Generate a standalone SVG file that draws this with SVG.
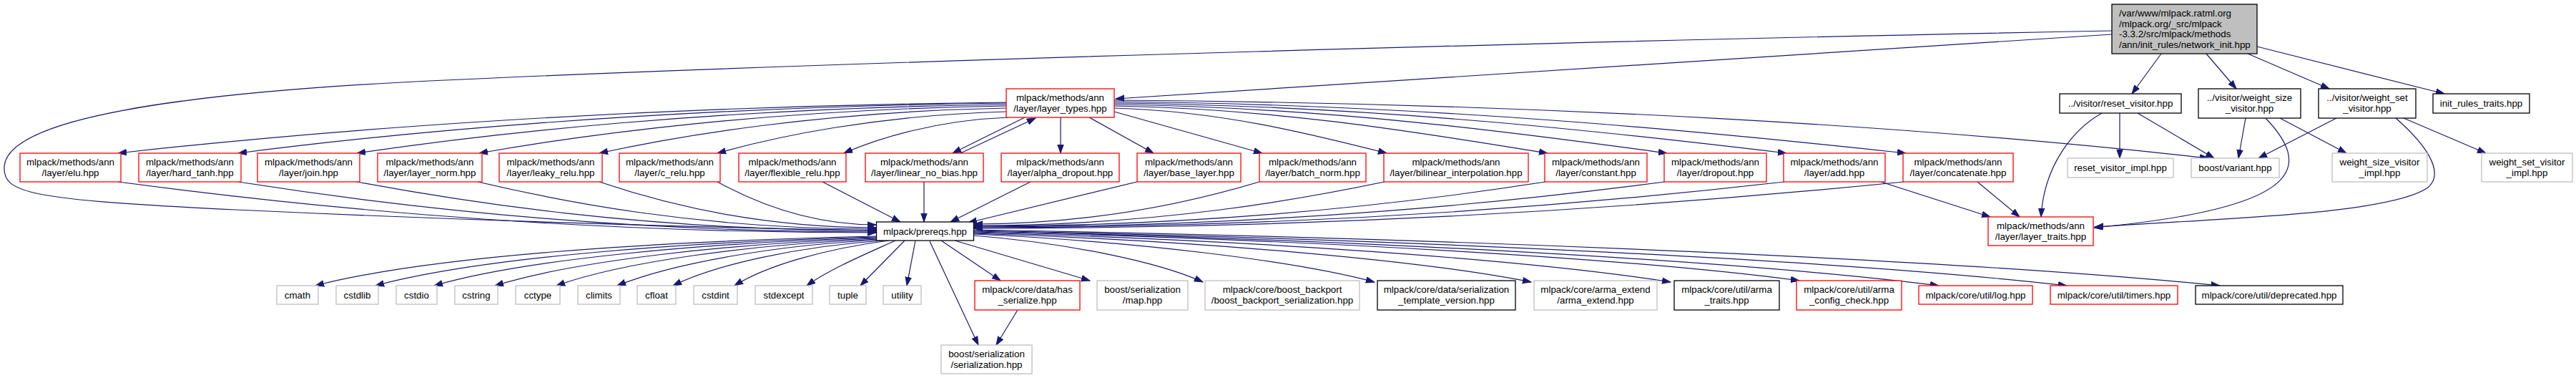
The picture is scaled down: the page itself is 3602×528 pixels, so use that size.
<svg xmlns="http://www.w3.org/2000/svg" width="3602" height="528" viewBox="0 0 3602 528">
<style>
text{font-family:"Liberation Sans",Arial,Helvetica,sans-serif;font-size:13.33px;fill:#000;text-anchor:middle}
.l{text-anchor:start}
rect{fill:#fff;stroke-width:1.3}
.r rect{stroke:#ff0000}
.b rect{stroke:#000}
.g rect{stroke:#bfbfbf}
.root rect{fill:#bfbfbf;stroke:#000}
#edges path{fill:none;stroke:#191970;stroke-width:1.2;marker-end:url(#ah)}
</style>
<defs>
<marker id="ah" markerWidth="13" markerHeight="10" refX="12" refY="5" orient="auto" markerUnits="userSpaceOnUse">
<path d="M0,0.8 L12,5 L0,9.2 z" fill="#191970" stroke="#191970" stroke-width="1"/>
</marker>
</defs>
<rect x="0" y="0" width="3602" height="528" style="fill:#fff;stroke:none"/>
<g id="edges">
<path d="M2953,48 L1560,138"/>
<path d="M2953,43 C2300,55 1200,85 600,113 C250,130 12,165 6,232 C3,270 40,279 330,293 C700,310 1000,318 1225,322"/>
<path d="M3022,75 L2981,131"/>
<path d="M3085,75 L3127,124"/>
<path d="M3143,75 L3257,124"/>
<path d="M3156,65 L3418,131"/>
<path d="M1407,143 C848,149 413,186 165,214"/>
<path d="M1407,144 C924,150 548,186 333,214"/>
<path d="M1407,146 C998,151 681,187 499,214"/>
<path d="M1407,148 C1075,153 817,188 670,214"/>
<path d="M1407,151 C1151,156 952,189 838,214"/>
<path d="M1407,156 C1225,161 1084,191 1003,214"/>
<path d="M1410,164 C1307,168 1226,194 1180,214"/>
<path d="M1433,164 L1332,214"/>
<path d="M1343,214 L1448,165"/>
<path d="M1483,164 L1483,214"/>
<path d="M1523,164 L1613,214"/>
<path d="M1558,156 L1765,214"/>
<path d="M1558,151 C1710,155 1844,190 1939,214"/>
<path d="M1558,148 C1800,152 2012,190 2164,214"/>
<path d="M1558,146 C1867,150 2138,188 2331,214"/>
<path d="M1558,144 C1934,148 2263,186 2498,214"/>
<path d="M1558,142 C2001,146 2388,184 2665,214"/>
<path d="M1558,140 C2170,144 2705,178 3088,221"/>
<path d="M165,254 C377,282 748,325 1225,325"/>
<path d="M333,254 C511,282 824,324 1225,324"/>
<path d="M499,254 C644,281 898,322 1225,322"/>
<path d="M668,254 C779,280 974,320 1225,320"/>
<path d="M838,254 C915,280 1051,318 1225,318"/>
<path d="M1003,254 C1047,278 1125,314 1225,314"/>
<path d="M1150,254 L1259,310"/>
<path d="M1292,254 L1292,310"/>
<path d="M1441,254 L1329,310"/>
<path d="M1590,254 L1354,311"/>
<path d="M1761,254 C1681,278 1542,313 1362,313"/>
<path d="M1936,254 C1821,278 1620,315 1362,315"/>
<path d="M2161,254 C2001,279 1722,316 1362,316"/>
<path d="M2328,254 C2135,279 1797,317 1362,317"/>
<path d="M2495,254 C2268,280 1872,318 1362,318"/>
<path d="M2662,254 C2402,280 1947,319 1362,319"/>
<path d="M2964,158 L2964,221"/>
<path d="M2989,158 L3096,221"/>
<path d="M3140,165 L3130,221"/>
<path d="M3188,165 L3281,214"/>
<path d="M3267,165 L3158,221"/>
<path d="M3361,165 L3476,214"/>
<path d="M2630,254 L2783,303"/>
<path d="M2765,254 L2824,303"/>
<path d="M2939,158 C2900,180 2858,230 2854,303"/>
<path d="M3168,165 C3230,230 3230,290 2928,318"/>
<path d="M3350,165 C3390,200 3420,240 3395,262 C3340,300 3100,305 2929,317"/>
<path d="M1226,330 C912,337 598,358 441,399"/>
<path d="M1226,331 C950,338 670,360 525,399"/>
<path d="M1226,332 C985,339 735,362 607,399"/>
<path d="M1227,333 C1020,340 805,364 692,399"/>
<path d="M1229,334 C1050,341 870,366 778,399"/>
<path d="M1232,335 C1085,342 940,368 863,399"/>
<path d="M1236,336 C1115,344 1000,370 941,399"/>
<path d="M1243,336 C1150,348 1070,372 1027,399"/>
<path d="M1252,336 C1210,355 1160,376 1128,399"/>
<path d="M1265,336 L1203,399"/>
<path d="M1280,336 L1268,399"/>
<path d="M1316,336 L1399,392"/>
<path d="M1335,336 L1524,392"/>
<path d="M1361,329 C1489,339 1618,365 1682,394"/>
<path d="M1361,327 C1585,337 1810,364 1922,394"/>
<path d="M1361,326 C1673,336 1985,363 2141,394"/>
<path d="M1361,325 C1751,335 2141,363 2336,394"/>
<path d="M1361,324 C1823,334 2285,361 2516,392"/>
<path d="M1361,323 C1901,334 2441,365 2711,399"/>
<path d="M1361,322 C1973,334 2584,364 2890,399"/>
<path d="M1361,321 C2058,333 2755,364 3104,399"/>
<path d="M1300,337 L1368,482"/>
<path d="M1423,433 L1393,482"/>
</g>
<g id="n_root" class="root"><rect x="2953" y="6" width="203" height="69"/>
<text class="l" x="2963" y="23">/var/www/mlpack.ratml.org</text>
<text class="l" x="2963" y="37.5">/mlpack.org/_src/mlpack</text>
<text class="l" x="2963" y="52">-3.3.2/src/mlpack/methods</text>
<text class="l" x="2963" y="66.5">/ann/init_rules/network_init.hpp</text></g>
<g id="n_layer_types" class="r"><rect x="1407" y="124" width="151" height="40"/><text x="1482.5" y="141">mlpack/methods/ann</text><text x="1482.5" y="155.5">/layer/layer_types.hpp</text></g>
<g id="n_reset_visitor" class="b"><rect x="2880" y="131" width="170" height="27"/><text x="2965" y="149">../visitor/reset_visitor.hpp</text></g>
<g id="n_weight_size_visitor" class="b"><rect x="3074" y="124" width="143" height="41"/><text x="3145.5" y="141">../visitor/weight_size</text><text x="3145.5" y="155.5">_visitor.hpp</text></g>
<g id="n_weight_set_visitor" class="b"><rect x="3242" y="124" width="136" height="41"/><text x="3310" y="141">../visitor/weight_set</text><text x="3310" y="155.5">_visitor.hpp</text></g>
<g id="n_init_rules_traits" class="b"><rect x="3402" y="131" width="135" height="27"/><text x="3469.5" y="149">init_rules_traits.hpp</text></g>
<g id="n_elu" class="r"><rect x="28" y="214" width="141" height="40"/><text x="98.5" y="231">mlpack/methods/ann</text><text x="98.5" y="245.5">/layer/elu.hpp</text></g>
<g id="n_hard_tanh" class="r"><rect x="194" y="214" width="143" height="40"/><text x="265.5" y="231">mlpack/methods/ann</text><text x="265.5" y="245.5">/layer/hard_tanh.hpp</text></g>
<g id="n_join" class="r"><rect x="360" y="214" width="143" height="40"/><text x="431.5" y="231">mlpack/methods/ann</text><text x="431.5" y="245.5">/layer/join.hpp</text></g>
<g id="n_layer_norm" class="r"><rect x="528" y="214" width="146" height="40"/><text x="601" y="231">mlpack/methods/ann</text><text x="601" y="245.5">/layer/layer_norm.hpp</text></g>
<g id="n_leaky_relu" class="r"><rect x="698" y="214" width="144" height="40"/><text x="770" y="231">mlpack/methods/ann</text><text x="770" y="245.5">/layer/leaky_relu.hpp</text></g>
<g id="n_c_relu" class="r"><rect x="866" y="214" width="141" height="40"/><text x="936.5" y="231">mlpack/methods/ann</text><text x="936.5" y="245.5">/layer/c_relu.hpp</text></g>
<g id="n_flexible_relu" class="r"><rect x="1033" y="214" width="150" height="40"/><text x="1108" y="231">mlpack/methods/ann</text><text x="1108" y="245.5">/layer/flexible_relu.hpp</text></g>
<g id="n_linear_no_bias" class="r"><rect x="1210" y="214" width="165" height="40"/><text x="1292.5" y="231">mlpack/methods/ann</text><text x="1292.5" y="245.5">/layer/linear_no_bias.hpp</text></g>
<g id="n_alpha_dropout" class="r"><rect x="1400" y="214" width="165" height="40"/><text x="1482.5" y="231">mlpack/methods/ann</text><text x="1482.5" y="245.5">/layer/alpha_dropout.hpp</text></g>
<g id="n_base_layer" class="r"><rect x="1590" y="214" width="145" height="40"/><text x="1662.5" y="231">mlpack/methods/ann</text><text x="1662.5" y="245.5">/layer/base_layer.hpp</text></g>
<g id="n_batch_norm" class="r"><rect x="1761" y="214" width="149" height="40"/><text x="1835.5" y="231">mlpack/methods/ann</text><text x="1835.5" y="245.5">/layer/batch_norm.hpp</text></g>
<g id="n_bilinear" class="r"><rect x="1935" y="214" width="202" height="40"/><text x="2036" y="231">mlpack/methods/ann</text><text x="2036" y="245.5">/layer/bilinear_interpolation.hpp</text></g>
<g id="n_constant" class="r"><rect x="2160" y="214" width="143" height="40"/><text x="2231.5" y="231">mlpack/methods/ann</text><text x="2231.5" y="245.5">/layer/constant.hpp</text></g>
<g id="n_dropout" class="r"><rect x="2327" y="214" width="143" height="40"/><text x="2398.5" y="231">mlpack/methods/ann</text><text x="2398.5" y="245.5">/layer/dropout.hpp</text></g>
<g id="n_add" class="r"><rect x="2494" y="214" width="142" height="40"/><text x="2565" y="231">mlpack/methods/ann</text><text x="2565" y="245.5">/layer/add.hpp</text></g>
<g id="n_concatenate" class="r"><rect x="2661" y="214" width="154" height="40"/><text x="2738" y="231">mlpack/methods/ann</text><text x="2738" y="245.5">/layer/concatenate.hpp</text></g>
<g id="n_reset_visitor_impl" class="g"><rect x="2891" y="221" width="148" height="27"/><text x="2965" y="239">reset_visitor_impl.hpp</text></g>
<g id="n_boost_variant" class="g"><rect x="3064" y="221" width="123" height="27"/><text x="3125.5" y="239">boost/variant.hpp</text></g>
<g id="n_weight_size_visitor_impl" class="g"><rect x="3261" y="214" width="133" height="40"/><text x="3327.5" y="231">weight_size_visitor</text><text x="3327.5" y="245.5">_impl.hpp</text></g>
<g id="n_weight_set_visitor_impl" class="g"><rect x="3470" y="214" width="127" height="40"/><text x="3533.5" y="231">weight_set_visitor</text><text x="3533.5" y="245.5">_impl.hpp</text></g>
<g id="n_prereqs" class="b"><rect x="1225.5" y="310" width="136" height="26"/><text x="1293.5" y="327.5">mlpack/prereqs.hpp</text></g>
<g id="n_layer_traits" class="r"><rect x="2780" y="303" width="147" height="40"/><text x="2853.5" y="320">mlpack/methods/ann</text><text x="2853.5" y="334.5">/layer/layer_traits.hpp</text></g>
<g id="n_cmath" class="g"><rect x="387" y="399" width="58" height="26"/><text x="416" y="416.5">cmath</text></g>
<g id="n_cstdlib" class="g"><rect x="470" y="399" width="59" height="26"/><text x="499.5" y="416.5">cstdlib</text></g>
<g id="n_cstdio" class="g"><rect x="554" y="399" width="57" height="26"/><text x="582.5" y="416.5">cstdio</text></g>
<g id="n_cstring" class="g"><rect x="636" y="399" width="60" height="26"/><text x="666" y="416.5">cstring</text></g>
<g id="n_cctype" class="g"><rect x="721" y="399" width="62" height="26"/><text x="752" y="416.5">cctype</text></g>
<g id="n_climits" class="g"><rect x="808" y="399" width="59" height="26"/><text x="837.5" y="416.5">climits</text></g>
<g id="n_cfloat" class="g"><rect x="891" y="399" width="54" height="26"/><text x="918" y="416.5">cfloat</text></g>
<g id="n_cstdint" class="g"><rect x="970" y="399" width="61" height="26"/><text x="1000.5" y="416.5">cstdint</text></g>
<g id="n_stdexcept" class="g"><rect x="1056" y="399" width="80" height="26"/><text x="1096" y="416.5">stdexcept</text></g>
<g id="n_tuple" class="g"><rect x="1160" y="399" width="51" height="26"/><text x="1185.5" y="416.5">tuple</text></g>
<g id="n_utility" class="g"><rect x="1235" y="399" width="53" height="26"/><text x="1261.5" y="416.5">utility</text></g>
<g id="n_has_serialize" class="r"><rect x="1363" y="392" width="147" height="41"/><text x="1436.5" y="409">mlpack/core/data/has</text><text x="1436.5" y="423.5">_serialize.hpp</text></g>
<g id="n_map" class="g"><rect x="1534" y="392" width="127" height="41"/><text x="1597.5" y="409">boost/serialization</text><text x="1597.5" y="423.5">/map.hpp</text></g>
<g id="n_boost_backport" class="g"><rect x="1685" y="392" width="216" height="41"/><text x="1793" y="409">mlpack/core/boost_backport</text><text x="1793" y="423.5">/boost_backport_serialization.hpp</text></g>
<g id="n_template_version" class="b"><rect x="1926" y="392" width="193" height="41"/><text x="2022.5" y="409">mlpack/core/data/serialization</text><text x="2022.5" y="423.5">_template_version.hpp</text></g>
<g id="n_arma_extend" class="g"><rect x="2145" y="392" width="172" height="41"/><text x="2231" y="409">mlpack/core/arma_extend</text><text x="2231" y="423.5">/arma_extend.hpp</text></g>
<g id="n_arma_traits" class="b"><rect x="2341" y="392" width="147" height="41"/><text x="2414.5" y="409">mlpack/core/util/arma</text><text x="2414.5" y="423.5">_traits.hpp</text></g>
<g id="n_arma_config_check" class="r"><rect x="2512" y="392" width="147" height="41"/><text x="2585.5" y="409">mlpack/core/util/arma</text><text x="2585.5" y="423.5">_config_check.hpp</text></g>
<g id="n_log" class="r"><rect x="2683" y="399" width="159" height="26"/><text x="2762.5" y="416.5">mlpack/core/util/log.hpp</text></g>
<g id="n_timers" class="r"><rect x="2867" y="399" width="178" height="26"/><text x="2956" y="416.5">mlpack/core/util/timers.hpp</text></g>
<g id="n_deprecated" class="b"><rect x="3070" y="399" width="206" height="26"/><text x="3173" y="416.5">mlpack/core/util/deprecated.hpp</text></g>
<g id="n_serialization" class="g"><rect x="1316" y="482" width="127" height="40"/><text x="1379.5" y="499">boost/serialization</text><text x="1379.5" y="513.5">/serialization.hpp</text></g>
</svg>
